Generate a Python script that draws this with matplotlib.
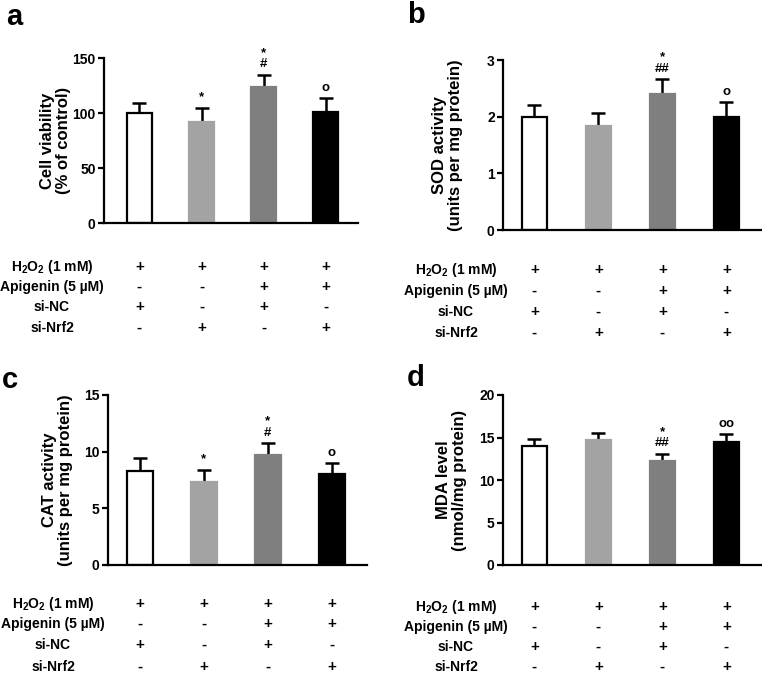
import matplotlib
matplotlib.use("Agg")
import matplotlib.pyplot as plt
import matplotlib.transforms as mtransforms

plt.rcParams['font.family'] = ['Liberation Sans', 'DejaVu Sans']
plt.rcParams['font.weight'] = 'bold'
plt.rcParams['mathtext.fontset'] = 'custom'
plt.rcParams['mathtext.rm'] = 'Liberation Sans:bold'
plt.rcParams['mathtext.bf'] = 'Liberation Sans:bold'
plt.rcParams['mathtext.it'] = 'Liberation Sans:bold'
plt.rcParams['mathtext.default'] = 'rm'

# ---- data ----
groups = ["G1", "G2", "G3", "G4"]
row_labels = [r"H$_2$O$_2$ (1 mM)", "Apigenin (5 µM)", "si-NC", "si-Nrf2"]
row_signs = [["+", "+", "+", "+"],
             ["-", "-", "+", "+"],
             ["+", "-", "+", "-"],
             ["-", "+", "-", "+"]]

viability = [100, 92, 124, 100.5]
viability_err = [9, 13, 11, 13]
viability_marks = ["", "*", "*\n#", "o"]

sod = [2.0, 1.83, 2.40, 2.0]
sod_err = [0.2, 0.23, 0.27, 0.26]
sod_marks = ["", "", "*\n##", "o"]

cat = [8.3, 7.3, 9.7, 8.05]
cat_err = [1.1, 1.1, 1.05, 0.95]
cat_marks = ["", "*", "*\n#", "o"]

mda = [14.0, 14.7, 12.25, 14.45]
mda_err = [0.8, 0.8, 0.85, 1.0]
mda_marks = ["", "", "*\n##", "oo"]

bar_colors = ["white", "#a3a3a3", "#7f7f7f", "black"]

panels = [
    dict(letter="a", vals=viability, errs=viability_err, marks=viability_marks,
         ylabel="Cell viability\n(% of control)", ylim=150, ticks=[0, 50, 100, 150],
         rect=[104, 58, 358, 223], xlim=(-0.57, 3.52), labx=-0.13,
         letter_xy=(6, 25), rows_y=[267, 287, 307, 328], rows_x=52),
    dict(letter="b", vals=sod, errs=sod_err, marks=sod_marks,
         ylabel="SOD activity\n(units per mg protein)", ylim=3, ticks=[0, 1, 2, 3],
         rect=[503, 60, 761, 230], xlim=(-0.49, 3.54), labx=-0.155,
         letter_xy=(407, 23), rows_y=[270, 291, 312, 333], rows_x=456),
    dict(letter="c", vals=cat, errs=cat_err, marks=cat_marks,
         ylabel="CAT activity\n(units per mg protein)", ylim=15, ticks=[0, 5, 10, 15],
         rect=[108, 395, 367, 565], xlim=(-0.5, 3.55), labx=-0.135,
         letter_xy=(2, 388), rows_y=[604, 624, 645, 667], rows_x=53),
    dict(letter="d", vals=mda, errs=mda_err, marks=mda_marks,
         ylabel="MDA level\n(nmol/mg protein)", ylim=20, ticks=[0, 5, 10, 15, 20],
         rect=[503, 395, 761, 565], xlim=(-0.49, 3.54), labx=-0.14,
         letter_xy=(407, 386), rows_y=[607, 627, 647, 667], rows_x=456),
]

W, H = 762, 674
fig = plt.figure(figsize=(W / 100, H / 100), dpi=100)

for p in panels:
    x0, y0, x1, y1 = p["rect"]
    ax = fig.add_axes([x0 / W, 1 - y1 / H, (x1 - x0) / W, (y1 - y0) / H])
    xs = list(range(len(groups)))
    ax.bar(xs, p["vals"], width=0.4, color=bar_colors,
           edgecolor=["black", bar_colors[1], bar_colors[2], "black"], linewidth=1.6, zorder=2)
    ax.errorbar(xs, p["vals"], yerr=[[0] * 4, p["errs"]], fmt="none", ecolor="black",
                elinewidth=1.8, capsize=5, capthick=1.8, zorder=1)
    for x, v, e, m in zip(xs, p["vals"], p["errs"], p["marks"]):
        if m:
            ax.annotate(m, (x, v + e), xytext=(0, 3), textcoords="offset points",
                        ha="center", va="bottom", fontsize=9.5, fontweight="bold",
                        linespacing=0.95)
    ax.set_xlim(*p["xlim"])
    ax.set_ylim(0, p["ylim"])
    ax.set_yticks(p["ticks"])
    ax.set_xticks([])
    for s in ["top", "right"]:
        ax.spines[s].set_visible(False)
    for s in ["left", "bottom"]:
        ax.spines[s].set_linewidth(1.6)
    ax.tick_params(axis="y", length=4, width=1.6, labelsize=10, pad=2)
    for t in ax.get_yticklabels():
        t.set_fontweight("bold")
    ax.set_ylabel(p["ylabel"], fontsize=12, fontweight="bold", linespacing=1.05)
    ax.yaxis.set_label_coords(p["labx"], 0.5)
    fig.text(p["letter_xy"][0] / W, 1 - p["letter_xy"][1] / H, p["letter"],
             fontsize=21, fontweight="bold", ha="left", va="baseline")
    # treatment table
    trans = mtransforms.blended_transform_factory(ax.transData, fig.transFigure)
    for r, (lab, signs) in enumerate(zip(row_labels, row_signs)):
        yy = 1 - p["rows_y"][r] / H
        fig.text(p["rows_x"] / W, yy, lab, ha="center", va="center",
                 fontsize=10, fontweight="bold")
        for x, sgn in zip(xs, signs):
            ax.text(x, yy, sgn, transform=trans, ha="center", va="center",
                    fontsize=11, fontweight="bold", clip_on=False)

fig.savefig("out.png", dpi=100)
